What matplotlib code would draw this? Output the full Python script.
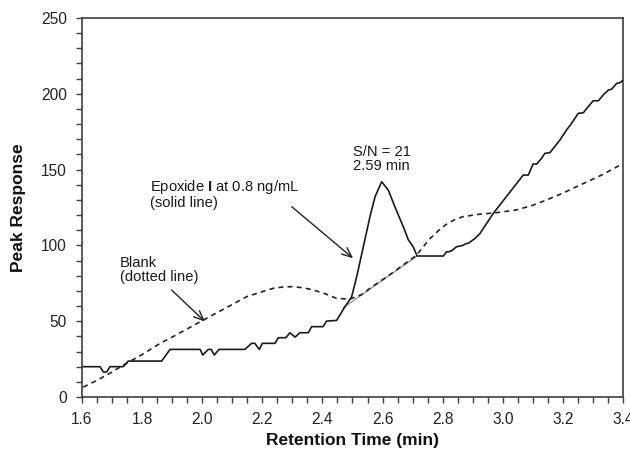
import matplotlib
matplotlib.use("Agg")
import matplotlib.pyplot as plt

plt.rcParams['font.family'] = ['Liberation Sans', 'DejaVu Sans']
plt.rcParams['mathtext.fontset'] = 'custom'
plt.rcParams['mathtext.rm'] = 'Liberation Sans'
plt.rcParams['mathtext.bf'] = 'Liberation Sans:bold'

# Epoxide I at 0.8 ng/mL (solid line)
solid_t = [1.604, 1.660, 1.671, 1.682, 1.693, 1.737, 1.754, 1.865, 1.893, 1.993,
           2.002, 2.020, 2.030, 2.040, 2.056, 2.142, 2.164, 2.175, 2.190, 2.200,
           2.242, 2.253, 2.278, 2.292, 2.309, 2.325, 2.353, 2.364, 2.402, 2.414,
           2.447, 2.475, 2.497, 2.514, 2.536, 2.558, 2.575, 2.597, 2.619, 2.641,
           2.669, 2.686, 2.702, 2.715, 2.802, 2.813, 2.820, 2.830, 2.846, 2.867,
           2.876, 2.886, 2.907, 2.924, 2.968, 3.068, 3.085, 3.101, 3.113, 3.129,
           3.140, 3.157, 3.168, 3.190, 3.212, 3.229, 3.251, 3.268, 3.284, 3.301,
           3.318, 3.334, 3.351, 3.362, 3.379, 3.390, 3.400]
solid_v = [20.0, 20.0, 16.5, 16.5, 20.0, 20.0, 23.7, 23.7, 31.4, 31.4,
           27.7, 31.4, 31.4, 27.7, 31.4, 31.4, 35.4, 35.4, 31.4, 35.4,
           35.4, 39.1, 39.1, 42.4, 39.5, 42.4, 42.4, 46.4, 46.4, 50.1,
           50.5, 59.6, 66.0, 79.4, 99.1, 118.9, 132.1, 142.0, 136.5, 125.5,
           112.3, 103.6, 99.1, 93.0, 93.0, 95.8, 95.8, 96.5, 99.1, 100.0,
           101.0, 101.5, 104.5, 107.8, 121.0, 146.4, 146.4, 153.7, 153.7, 157.4,
           160.7, 161.2, 164.0, 169.5, 176.1, 180.5, 187.1, 187.5, 191.5, 195.4,
           195.4, 199.2, 202.5, 203.0, 206.9, 207.3, 209.0]

# Blank (dotted line)
blank_t = [1.604, 1.650, 1.700, 1.737, 1.800, 1.860, 1.900, 2.004, 2.100, 2.148,
           2.200, 2.236, 2.270, 2.303, 2.340, 2.370, 2.410, 2.447, 2.490, 2.530,
           2.558, 2.630, 2.713, 2.735, 2.758, 2.790, 2.813, 2.840, 2.868, 2.920,
           2.980, 3.046, 3.100, 3.146, 3.200, 3.257, 3.330, 3.400]
blank_v = [6.5, 11.0, 16.5, 21.0, 28.0, 35.4, 39.5, 50.8, 61.0, 66.2,
           69.5, 71.7, 72.6, 72.8, 71.9, 70.6, 68.0, 65.1, 64.5, 67.5,
           71.7, 81.5, 93.5, 99.0, 104.5, 110.5, 114.0, 117.0, 119.0, 120.5,
           121.6, 123.4, 126.5, 130.0, 134.5, 139.8, 146.5, 154.0]

# integration baseline (grey)
base_t = [2.470, 2.715]
base_v = [59.0, 93.0]

xticks = [1.6, 1.8, 2.0, 2.2, 2.4, 2.6, 2.8, 3.0, 3.2, 3.4]
yticks = [0, 50, 100, 150, 200, 250]

fig = plt.figure(figsize=(6.3, 4.57), dpi=100)
ax = fig.add_axes([82/630, 1-397/457, (623-82)/630, (397-18)/457])

ax.plot(base_t, base_v, color='#9a9a9a', lw=1.0, zorder=2)
ax.plot(blank_t, blank_v, color='#222222', lw=1.2, ls=(0, (3, 2.5)), zorder=3)
ax.plot(solid_t, solid_v, color='#1a1a1a', lw=1.2, zorder=4)

ax.set_xlim(1.6, 3.4)
ax.set_ylim(0, 250)
ax.set_xticks(xticks)
ax.set_xticklabels([f"{t:.1f}" for t in xticks])
ax.set_yticks(yticks)
ax.set_xticks([1.6 + 0.05*i for i in range(37)], minor=True)
ax.set_yticks(list(range(0, 251, 10)), minor=True)
ax.tick_params(which='both', direction='out', length=4, width=1.0, color='#404040',
               labelsize=11.2, labelcolor='#222222')
ax.tick_params(axis='x', pad=7)
ax.tick_params(axis='y', pad=7)
for s in ax.spines.values():
    s.set_color('#404040')
    s.set_linewidth(1.2)

ax.set_xlabel('Retention Time (min)', fontsize=12.5, fontweight='bold', color='#111111', va='center')
ax.xaxis.set_label_coords(0.5, (397-441)/379)
ax.set_ylabel('Peak Response', fontsize=12.5, fontweight='bold', color='#111111', va='center')
ax.yaxis.set_label_coords((19-82)/541, 0.5)

tc = '#1a1a1a'
fs = 10.6
ax.text(1.826, 136.0, r'Epoxide $\mathbf{I}$ at 0.8 ng/mL', fontsize=fs, va='baseline', color=tc)
ax.text(1.826, 125.5, '(solid line)', fontsize=fs, va='baseline', color=tc)
ax.text(1.726, 86.0, 'Blank', fontsize=fs, va='baseline', color=tc)
ax.text(1.726, 76.5, '(dotted line)', fontsize=fs, va='baseline', color=tc)
ax.text(2.5015, 159.2, 'S/N = 21', fontsize=fs, va='baseline', color=tc)
ax.text(2.5015, 149.5, '2.59 min', fontsize=fs, va='baseline', color=tc)

ap = dict(arrowstyle='->,head_length=0.7,head_width=0.3', color='#222222', lw=1.0,
          shrinkA=0, shrinkB=0)
ax.annotate('', xy=(2.502, 91.5), xytext=(2.298, 125.5), arrowprops=ap)
ax.annotate('', xy=(2.009, 49.7), xytext=(1.898, 70.6), arrowprops=ap)

fig.savefig('out.png', dpi=100)
